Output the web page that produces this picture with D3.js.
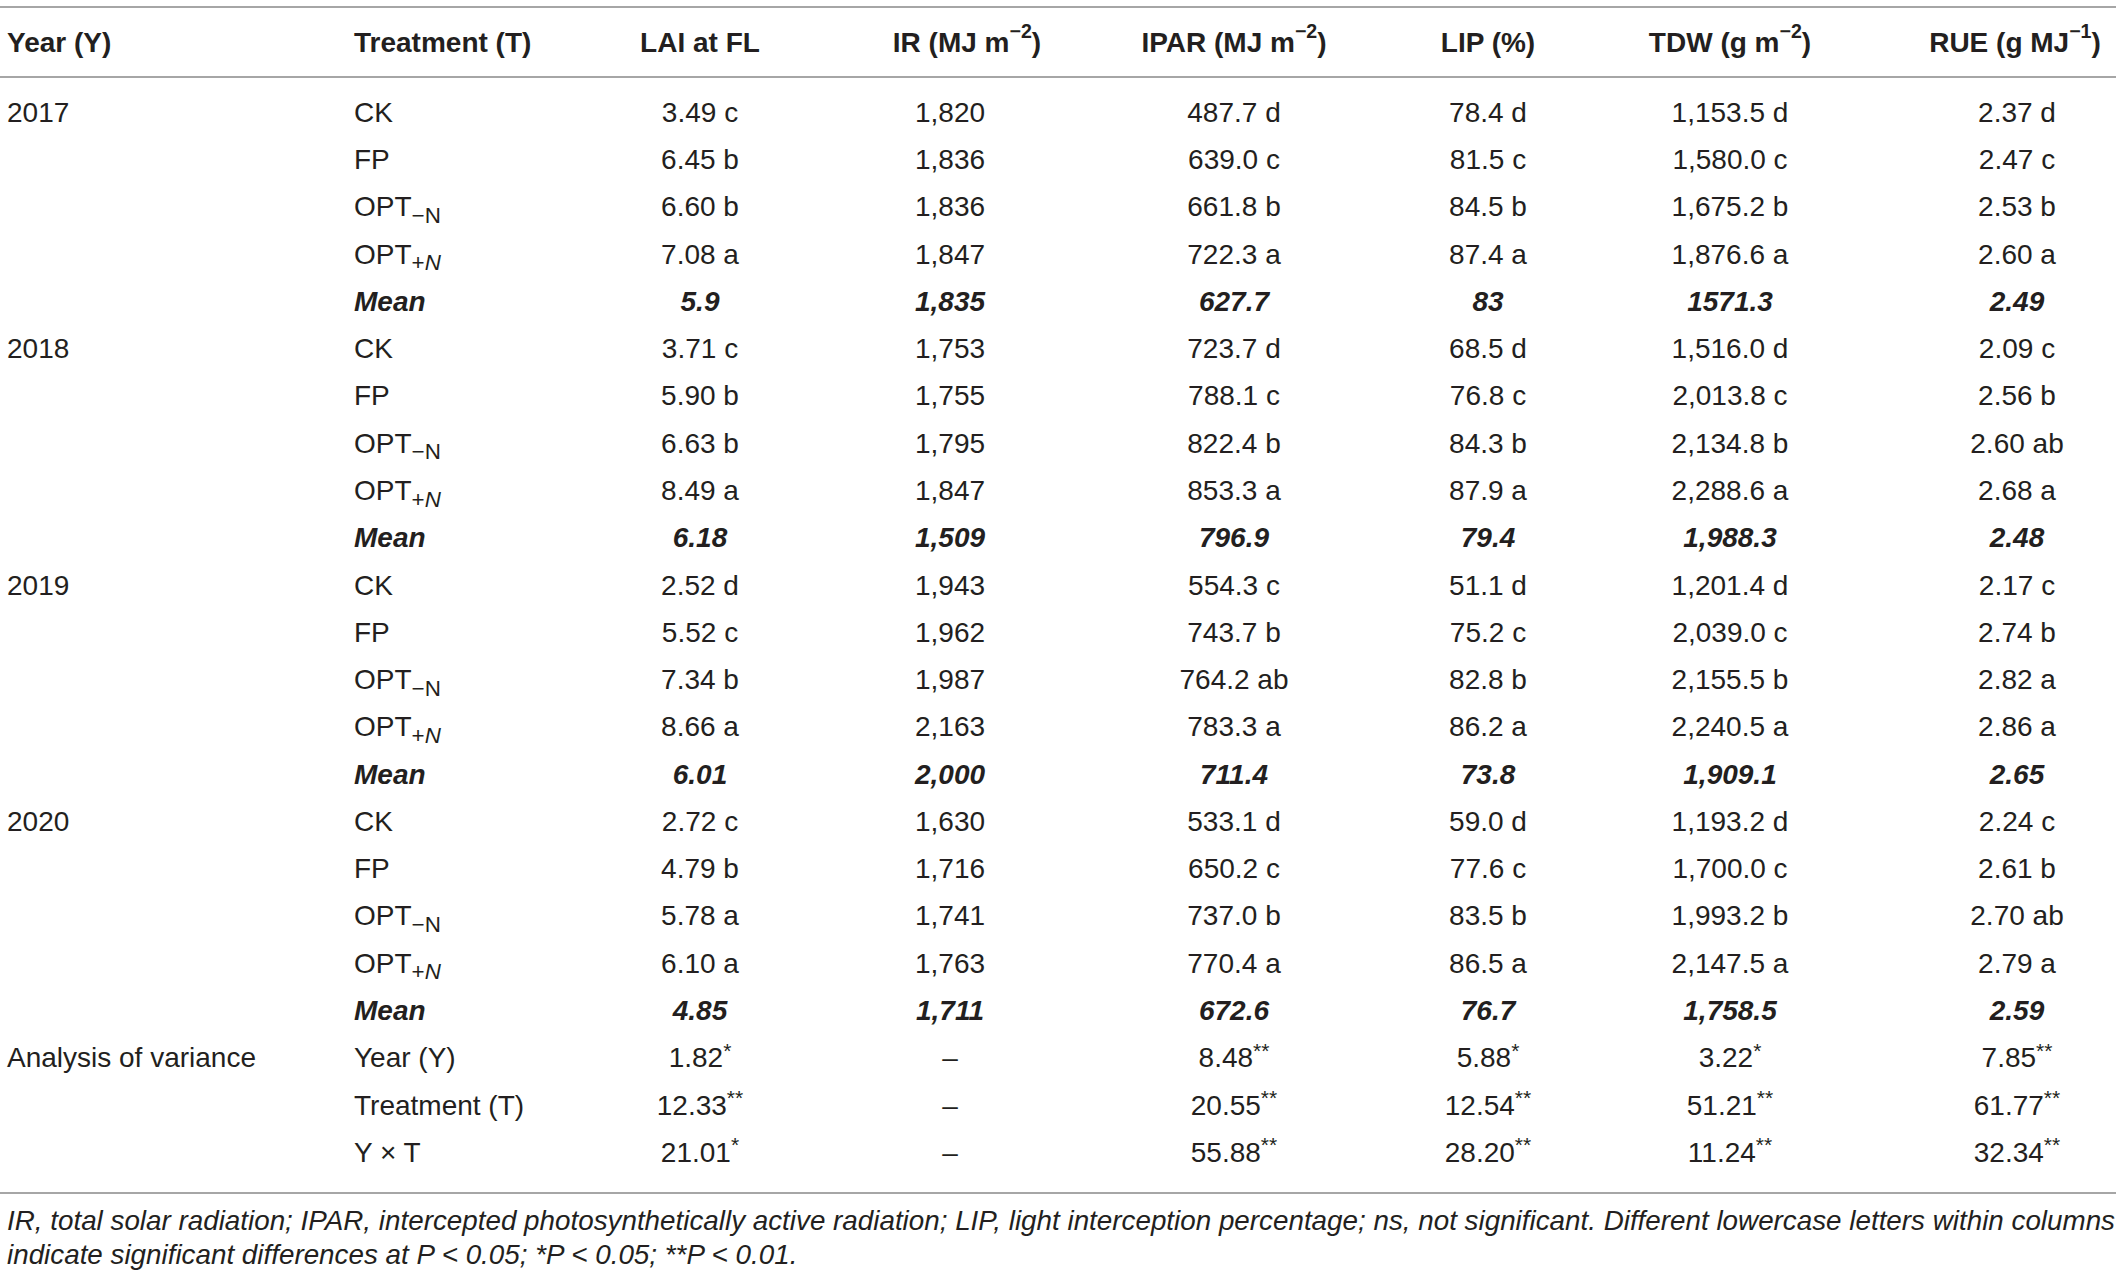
<!DOCTYPE html>
<html>
<head>
<meta charset="utf-8">
<script src="https://cdn.jsdelivr.net/npm/d3@7"></script>
<style>
  body { margin: 0; background: #fff; }
  text { font-family: "Liberation Sans", Arial, sans-serif; fill: #231f20; }
</style>
</head>
<body>
<div id="table"></div>
<script>
// Table content
const years = ["2017", "2018", "2019", "2020"];
const treatments = ["CK", "FP", "OPT-N", "OPT+N", "Mean"];
const anovaTerms = ["Year (Y)", "Treatment (T)", "Y × T"];
const anovaLabel = "Analysis of variance";

const laiValues = [
    ["3.49 c", "6.45 b", "6.60 b", "7.08 a", "5.9"],
    ["3.71 c", "5.90 b", "6.63 b", "8.49 a", "6.18"],
    ["2.52 d", "5.52 c", "7.34 b", "8.66 a", "6.01"],
    ["2.72 c", "4.79 b", "5.78 a", "6.10 a", "4.85"]
];
const irValues = [
    ["1,820", "1,836", "1,836", "1,847", "1,835"],
    ["1,753", "1,755", "1,795", "1,847", "1,509"],
    ["1,943", "1,962", "1,987", "2,163", "2,000"],
    ["1,630", "1,716", "1,741", "1,763", "1,711"]
];
const iparValues = [
    ["487.7 d", "639.0 c", "661.8 b", "722.3 a", "627.7"],
    ["723.7 d", "788.1 c", "822.4 b", "853.3 a", "796.9"],
    ["554.3 c", "743.7 b", "764.2 ab", "783.3 a", "711.4"],
    ["533.1 d", "650.2 c", "737.0 b", "770.4 a", "672.6"]
];
const lipValues = [
    ["78.4 d", "81.5 c", "84.5 b", "87.4 a", "83"],
    ["68.5 d", "76.8 c", "84.3 b", "87.9 a", "79.4"],
    ["51.1 d", "75.2 c", "82.8 b", "86.2 a", "73.8"],
    ["59.0 d", "77.6 c", "83.5 b", "86.5 a", "76.7"]
];
const tdwValues = [
    ["1,153.5 d", "1,580.0 c", "1,675.2 b", "1,876.6 a", "1571.3"],
    ["1,516.0 d", "2,013.8 c", "2,134.8 b", "2,288.6 a", "1,988.3"],
    ["1,201.4 d", "2,039.0 c", "2,155.5 b", "2,240.5 a", "1,909.1"],
    ["1,193.2 d", "1,700.0 c", "1,993.2 b", "2,147.5 a", "1,758.5"]
];
const rueValues = [
    ["2.37 d", "2.47 c", "2.53 b", "2.60 a", "2.49"],
    ["2.09 c", "2.56 b", "2.60 ab", "2.68 a", "2.48"],
    ["2.17 c", "2.74 b", "2.82 a", "2.86 a", "2.65"],
    ["2.24 c", "2.61 b", "2.70 ab", "2.79 a", "2.59"]
];

// ANOVA F values and significance stars
const laiAnova = [["1.82", "*"], ["12.33", "**"], ["21.01", "*"]];
const irAnova = [["–", ""], ["–", ""], ["–", ""]];
const iparAnova = [["8.48", "**"], ["20.55", "**"], ["55.88", "**"]];
const lipAnova = [["5.88", "*"], ["12.54", "**"], ["28.20", "**"]];
const tdwAnova = [["3.22", "*"], ["51.21", "**"], ["11.24", "**"]];
const rueAnova = [["7.85", "**"], ["61.77", "**"], ["32.34", "**"]];

// Header text: [main, superscript, tail]
const headYear = "Year (Y)";
const headTreat = "Treatment (T)";
const headers = [
    ["LAI at FL", "", ""],
    ["IR (MJ m", "−2", ")"],
    ["IPAR (MJ m", "−2", ")"],
    ["LIP (%)", "", ""],
    ["TDW (g m", "−2", ")"],
    ["RUE (g MJ", "−1", ")"]
];

const footnote = [
    "IR, total solar radiation; IPAR, intercepted photosynthetically active radiation; LIP, light interception percentage; ns, not significant. Different lowercase letters within columns",
    "indicate significant differences at P < 0.05; *P < 0.05; **P < 0.01."
];

const columnValues = [laiValues, irValues, iparValues, lipValues, tdwValues, rueValues];
const columnAnova = [laiAnova, irAnova, iparAnova, lipAnova, tdwAnova, rueAnova];

// Layout
const width = 2118, height = 1275;
const fontSize = 28;
const colIdx = d3.range(headers.length);
const xData = d3.scaleOrdinal().domain(colIdx).range([700, 950, 1234, 1488, 1730, 2017]);
const xHead = d3.scaleOrdinal().domain(colIdx).range([700, 967, 1234, 1488, 1730, 2015]);
const xYear = 7, xTreat = 354;

// Build row list
let rows = [];
years.forEach(function(yr, yi) {
    treatments.forEach(function(tr, ti) {
        rows.push({
            year: ti === 0 ? yr : "",
            treat: tr,
            mean: tr === "Mean",
            cells: columnValues.map(c => [c[yi][ti], ""])
        });
    });
});
anovaTerms.forEach(function(term, ai) {
    rows.push({
        year: ai === 0 ? anovaLabel : "",
        treat: term,
        mean: false,
        cells: columnAnova.map(c => c[ai])
    });
});

const y = d3.scaleLinear().domain([0, rows.length - 1]).range([112, 1152]);

const svg = d3.select("#table").append("svg")
    .attr("width", width)
    .attr("height", height);

// Rules
const ruleY = [7, 77, 1193];
svg.selectAll("line.rule")
    .data(ruleY)
    .enter().append("line")
    .attr("class", "rule")
    .attr("x1", 0).attr("x2", 2116)
    .attr("y1", d => d).attr("y2", d => d)
    .attr("stroke", "#a6a6a6")
    .attr("stroke-width", 2);

// Header
const headY = 42;
let hg = svg.append("g").attr("font-weight", "bold").attr("font-size", fontSize);
hg.append("text").attr("x", xYear).attr("y", headY).attr("dy", "0.35em").text(headYear);
hg.append("text").attr("x", xTreat).attr("y", headY).attr("dy", "0.35em").text(headTreat);
headers.forEach(function(h, i) {
    let t = hg.append("text")
        .attr("x", xHead(i)).attr("y", headY).attr("dy", "0.35em")
        .attr("text-anchor", "middle");
    t.append("tspan").text(h[0]);
    if (h[1]) {
        t.append("tspan").attr("font-size", fontSize * 0.7).attr("dy", "-0.7em").text(h[1]);
        t.append("tspan").attr("dy", "0.49em").text(h[2]);
    }
});

// Body rows
let body = svg.append("g").attr("font-size", fontSize);
rows.forEach(function(r, i) {
    let yy = y(i);
    if (r.year) {
        body.append("text").attr("x", xYear).attr("y", yy).attr("dy", "0.35em").text(r.year);
    }
    let tt = body.append("text").attr("x", xTreat).attr("y", yy).attr("dy", "0.35em");
    if (r.treat.startsWith("OPT")) {
        tt.append("tspan").text("OPT");
        let sub = tt.append("tspan").attr("font-size", fontSize * 0.8).attr("dy", "0.3em");
        if (r.treat === "OPT-N") {
            sub.text("−N");
        } else {
            sub.append("tspan").text("+");
            sub.append("tspan").attr("font-style", "italic").text("N");
        }
    } else if (r.mean) {
        tt.attr("font-weight", "bold").attr("font-style", "italic").text(r.treat);
    } else {
        tt.text(r.treat);
    }
    r.cells.forEach(function(c, ci) {
        let t = body.append("text")
            .attr("x", xData(ci)).attr("y", yy).attr("dy", "0.35em")
            .attr("text-anchor", "middle");
        if (r.mean) t.attr("font-weight", "bold").attr("font-style", "italic");
        t.append("tspan").text(c[0]);
        if (c[1]) {
            t.append("tspan").attr("font-size", fontSize * 0.75).attr("dy", "-0.45em").text(c[1]);
        }
    });
});

// Footnote
svg.append("g")
    .attr("font-size", 27.8)
    .attr("font-style", "italic")
    .selectAll("text")
    .data(footnote)
    .enter().append("text")
    .attr("x", 7)
    .attr("y", (d, i) => 1220 + i * 34)
    .attr("dy", "0.35em")
    .text(d => d);
</script>
</body>
</html>
